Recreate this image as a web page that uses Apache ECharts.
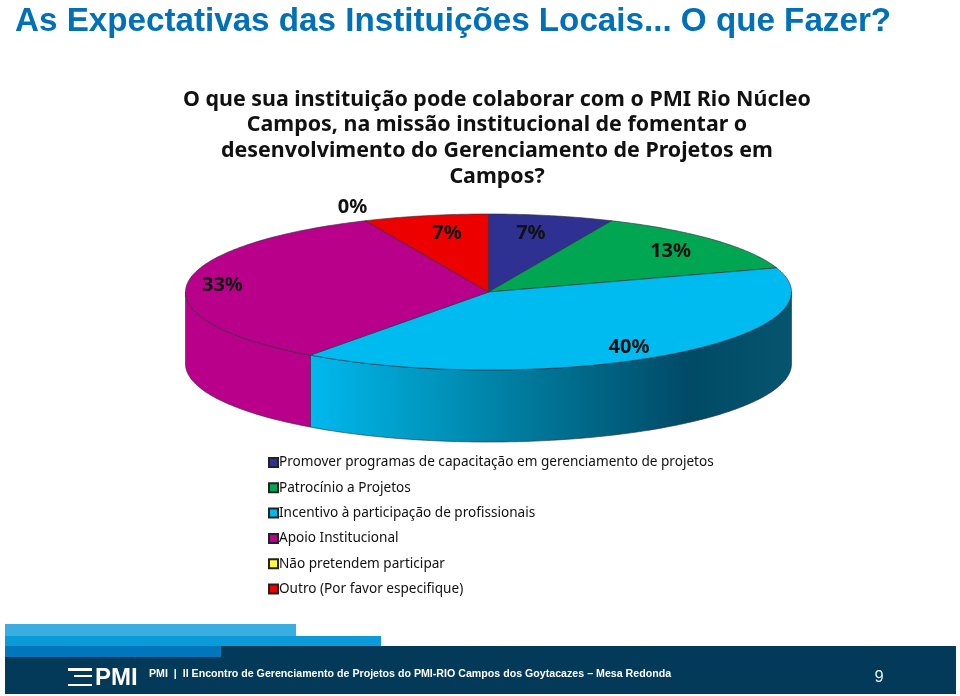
<!DOCTYPE html>
<html><head><meta charset="utf-8">
<style>html,body{margin:0;padding:0;background:#fff}#c{width:960px;height:696px}</style>
<script src="https://cdn.jsdelivr.net/npm/echarts@6/dist/echarts.min.js"></script>
</head><body><div id="c"></div>
<script>
const categories = [
  'Promover programas de capacitação em gerenciamento de projetos',
  'Patrocínio a Projetos',
  'Incentivo à participação de profissionais',
  'Apoio Institucional',
  'Não pretendem participar',
  'Outro (Por favor especifique)'
];
const responses = [2, 4, 12, 10, 0, 2];
const colors = ['#2E3192', '#00A651', '#00BBF0', '#B9008A', '#FFFF33', '#ED0000'];
const mainTitle = 'As Expectativas das Instituições Locais... O que Fazer?';
const question = 'O que sua instituição pode colaborar com o PMI Rio Núcleo\nCampos, na missão institucional de fomentar o\ndesenvolvimento do Gerenciamento de Projetos em\nCampos?';
const footerText = 'PMI  |  II Encontro de Gerenciamento de Projetos do PMI-RIO Campos dos Goytacazes – Mesa Redonda';
const pageNumber = '9';

const total = responses.reduce((a, b) => a + b, 0);
const CX = 488.5, CY = 292, RX = 303, RY = 78, DEPTH = 72;
const labelShift = [[-8,2],[2,1],[-2,5],[-25,0],[7,-2],[9,2]];
const pt = (deg, dy) => {
  const r = deg * Math.PI / 180;
  return [CX + RX * Math.sin(r), CY - RY * Math.cos(r) + (dy || 0)];
};
const arc = (a, b, dy) => {
  const out = [], n = Math.max(2, Math.ceil(Math.abs(b - a)));
  for (let i = 0; i <= n; i++) out.push(pt(a + (b - a) * i / n, dy));
  return out;
};
const wallFill = i => i === 2 ? {
  type: 'linear', x: 0, y: 0, x2: 1, y2: 0,
  colorStops: [
    { offset: 0, color: '#00B9EE' }, { offset: 0.21, color: '#009CC6' },
    { offset: 0.46, color: '#00789A' }, { offset: 0.79, color: '#004A66' },
    { offset: 1, color: '#06556F' }
  ]
} : colors[i];

function renderSlice(i) {
  return function (params, api) {
    const before = responses.slice(0, i).reduce((a, b) => a + b, 0);
    const a0 = before / total * 360;
    const a1 = a0 + api.value(0) / total * 360;
    const children = [];
    const wa = Math.max(a0, 90), wb = Math.min(a1, 270);
    if (wb > wa) {
      const pts = arc(wa, wb, 0).concat(arc(wb, wa, DEPTH));
      children.push({ type: 'polygon', shape: { points: pts },
        style: { fill: wallFill(i), stroke: '#2a2a3a', lineWidth: 0.6 } });
    }
    if (a1 > a0) {
      children.push({ type: 'polygon', shape: { points: [[CX, CY]].concat(arc(a0, a1, 0)) },
        style: { fill: colors[i], stroke: '#2a2a3a', lineWidth: 0.6 } });
    }
    const mid = (a0 + a1) / 2;
    const lp = pt(mid);
    const reach = a1 > a0 ? 0.8 : 1.16;
    const lx = CX + (lp[0] - CX) * reach + labelShift[i][0];
    const ly = CY + (lp[1] - CY) * reach + labelShift[i][1];
    children.push({ type: 'text', z2: 100,
      style: { x: lx, y: ly, text: Math.round(api.value(0) / total * 100) + '%',
        fill: '#111', font: 'bold 20px "Noto Sans"', align: 'center', verticalAlign: 'middle' } });
    return { type: 'group', children };
  };
}

const series = categories.map((name, i) => ({
  type: 'custom', name, coordinateSystem: 'none', silent: true, animation: false,
  itemStyle: { color: colors[i], borderColor: '#222', borderWidth: 0.8 },
  data: [[responses[i]]], renderItem: renderSlice(i), z: 3
}));

const rect = (x, y, w, h, fill) => ({ type: 'rect', shape: { x, y, width: w, height: h }, style: { fill }, silent: true });
const chart = echarts.init(document.getElementById('c'));
chart.setOption({
  animation: false,
  backgroundColor: '#fff',
  title: [
    { text: mainTitle, left: 10, top: 0,
      textStyle: { fontFamily: 'Liberation Sans', fontWeight: 'bold', fontSize: 33.2, color: '#0070B8' } },
    { text: question, left: 492, top: 82, textAlign: 'center',
      textStyle: { fontFamily: 'Noto Sans', fontWeight: 'bold', fontSize: 21.4, lineHeight: 25.6, color: '#111', align: 'center' } }
  ],
  legend: {
    orient: 'vertical', left: 263, top: 450, icon: 'rect', itemWidth: 9, itemHeight: 9, itemGap: 10.3,
    data: categories, selectedMode: false,
    textStyle: { fontFamily: 'Noto Sans', fontSize: 13.6, color: '#111', lineHeight: 15, padding: [0, 0, 0, -4] }
  },
  series,
  graphic: [
    rect(5, 624, 291, 12, '#3AAEE0'),
    rect(5, 636, 376, 10, '#0A9BD8'),
    rect(5, 646, 216, 11, '#0077BC'),
    rect(221, 646, 735, 11, '#033A5A'),
    rect(5, 657, 951, 37, '#033A5A'),
    rect(68, 668, 24, 3, '#fff'), rect(74, 675, 18, 2, '#fff'), rect(68, 684, 24, 2, '#fff'),
    { type: 'text', silent: true, style: { x: 95, y: 678, text: 'PMI', fill: '#fff', font: 'bold 24px "Liberation Sans"', verticalAlign: 'middle' } },
    { type: 'text', silent: true, style: { x: 149, y: 674, text: footerText, fill: '#fff', font: 'bold 10.65px "Liberation Sans"', verticalAlign: 'middle' } },
    { type: 'text', silent: true, style: { x: 879, y: 677, text: pageNumber, fill: '#e8eef2', font: '16.5px "Liberation Sans"', align: 'center', verticalAlign: 'middle' } }
  ]
});
</script></body></html>
